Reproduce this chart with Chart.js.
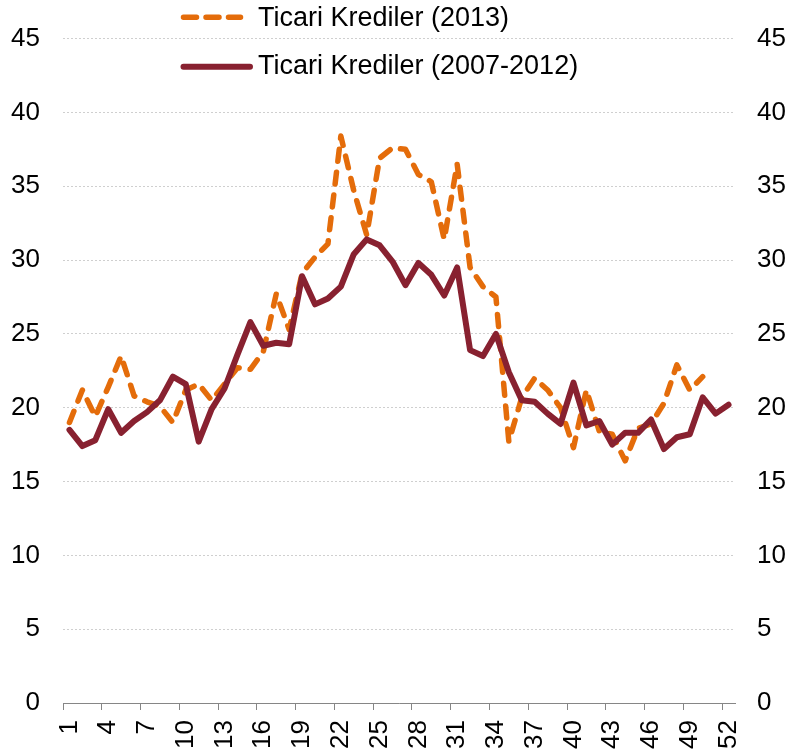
<!DOCTYPE html>
<html>
<head>
<meta charset="utf-8">
<script src="https://cdn.jsdelivr.net/npm/chart.js@4"></script>
<style>
  body { margin: 0; background: #fff; }
  #wrap { width: 788px; height: 752px; }
</style>
</head>
<body>
<div id="wrap"><canvas id="kredi" width="788" height="752"></canvas></div>
<script>
// hafta numaralari
var weeks = ['1','2','3','4','5','6','7','8','9','10','11','12','13','14','15','16','17','18','19','20',
    '21','22','23','24','25','26','27','28','29','30','31','32','33','34','35','36','37','38','39','40',
    '41','42','43','44','45','46','47','48','49','50','51','52'];

var yTicks = [0, 5, 10, 15, 20, 25, 30, 35, 40, 45];

var label2013 = 'Ticari Krediler (2013)';
var labelPast = 'Ticari Krediler (2007-2012)';

var credit2013 = [19.0, 21.2, 19.4, 21.4, 23.5, 20.8, 20.4, 20.1, 19.0, 21.2,
    21.6, 20.5, 21.6, 22.7, 22.6, 23.8, 27.7, 25.3, 29.1, 30.2,
    31.1, 38.4, 34.7, 31.7, 36.9, 37.6, 37.5, 35.8, 35.3, 31.4,
    36.5, 29.5, 28.2, 27.5, 17.7, 20.7, 22.0, 21.2, 20.0, 17.3,
    21.2, 18.4, 18.2, 16.4, 18.6, 18.9, 20.3, 22.9, 21.2, 22.1];

var creditPast = [18.5, 17.4, 17.8, 19.9, 18.3, 19.1, 19.7, 20.5, 22.1, 21.6,
    17.7, 19.9, 21.3, 23.6, 25.8, 24.2, 24.4, 24.3, 28.9, 27.0,
    27.4, 28.2, 30.4, 31.4, 31.0, 29.9, 28.3, 29.8, 29.0, 27.6,
    29.5, 23.9, 23.5, 25.0, 22.4, 20.5, 20.4, 19.6, 18.9, 21.7,
    18.8, 19.1, 17.5, 18.3, 18.3, 19.2, 17.2, 18.0, 18.2, 20.7,
    19.6, 20.2];

var orange = '#E46C0A';
var maroon = '#882130';
var fontFamily = '"Liberation Sans", Arial, sans-serif';

// legend drawn by hand, it sits inside the plot like the original
var legendPlugin = {
    id: 'handLegend',
    afterDraw: function(chart) {
        var ctx = chart.ctx;
        ctx.save();
        ctx.lineCap = 'round';

        ctx.strokeStyle = orange;
        ctx.lineWidth = 5.5;
        ctx.setLineDash([13, 9.5]);
        ctx.beginPath();
        ctx.moveTo(183.5, 17.3);
        ctx.lineTo(240.5, 17.3);
        ctx.stroke();

        ctx.setLineDash([]);
        ctx.strokeStyle = maroon;
        ctx.lineWidth = 6;
        ctx.beginPath();
        ctx.moveTo(183.5, 66.7);
        ctx.lineTo(250, 66.7);
        ctx.stroke();

        ctx.fillStyle = '#000';
        ctx.font = '27px ' + fontFamily;
        ctx.textAlign = 'left';
        ctx.textBaseline = 'alphabetic';
        ctx.fillText(label2013, 258, 26);
        ctx.fillText(labelPast, 258, 74);
        ctx.restore();
    }
};

var tickFont = { family: fontFamily, size: 26 };

new Chart(document.getElementById('kredi'), {
    type: 'line',
    data: {
        labels: weeks,
        datasets: [
            {
                label: labelPast,
                data: creditPast,
                borderColor: maroon,
                borderWidth: 6,
                borderJoinStyle: 'round',
                borderCapStyle: 'round',
                pointRadius: 0,
                tension: 0,
                fill: false,
                order: 0
            },
            {
                label: label2013,
                data: credit2013,
                borderColor: orange,
                borderWidth: 5.5,
                borderDash: [12, 11],
                borderJoinStyle: 'round',
                borderCapStyle: 'round',
                pointRadius: 0,
                tension: 0,
                fill: false,
                order: 1
            }
        ]
    },
    options: {
        responsive: false,
        maintainAspectRatio: false,
        animation: false,
        layout: { padding: { top: 37.5, left: 0, right: 0, bottom: 0 } },
        plugins: {
            legend: { display: false },
            tooltip: { enabled: false }
        },
        scales: {
            x: {
                offset: true,
                afterFit: function(s) { s.height = 49; },
                grid: {
                    offset: true,
                    drawOnChartArea: false,
                    drawTicks: true,
                    tickLength: 7,
                    tickWidth: 1,
                    tickColor: function(c) { return c.index % 3 === 0 ? '#868686' : 'rgba(0,0,0,0)'; }
                },
                border: { display: true, color: '#868686', width: 1 },
                ticks: {
                    autoSkip: false,
                    minRotation: 90,
                    maxRotation: 90,
                    padding: 10,
                    color: '#000',
                    font: tickFont,
                    callback: function(v, i) { return i % 3 === 0 ? weeks[i] : ''; }
                }
            },
            y: {
                position: 'left',
                min: yTicks[0],
                max: yTicks[yTicks.length - 1],
                afterFit: function(s) { s.width = 63; },
                afterBuildTicks: function(s) { s.ticks = yTicks.map(function(v) { return { value: v }; }); },
                grid: { color: '#cfcfcf', lineWidth: 1, drawTicks: false },
                border: { display: false, dash: [2, 2] },
                ticks: { padding: 23, color: '#000', font: tickFont }
            },
            y2: {
                position: 'right',
                min: yTicks[0],
                max: yTicks[yTicks.length - 1],
                afterFit: function(s) { s.width = 53; },
                afterBuildTicks: function(s) { s.ticks = yTicks.map(function(v) { return { value: v }; }); },
                grid: { display: false, drawTicks: false },
                border: { display: false },
                ticks: { padding: 22, color: '#000', font: tickFont }
            }
        }
    },
    plugins: [legendPlugin]
});
</script>
</body>
</html>
